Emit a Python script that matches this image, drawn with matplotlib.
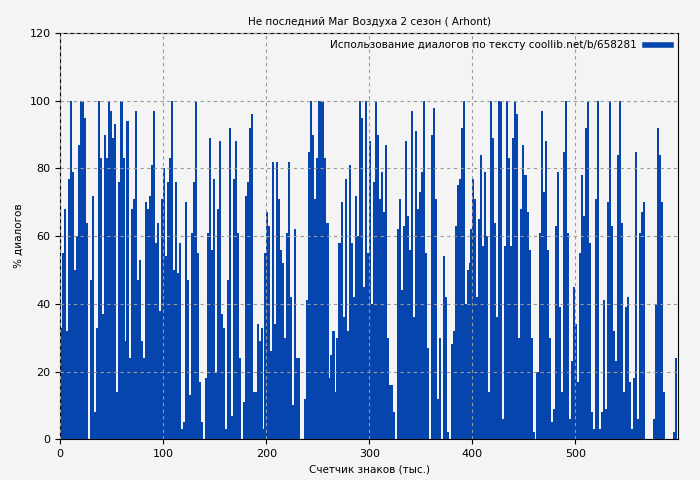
import matplotlib
matplotlib.use("Agg")
import matplotlib.pyplot as plt
import numpy as np
from matplotlib.lines import Line2D

seg1 = [33,55,68,32,77,100,79,50,60,87,100,100,95,64,0,47,72,8,33,100,83,37,90,83,100,97,89,93,14,76,
        100,83,29,94,24,68,71,97,47,53,29,24,70,68,72,81,97,58,64,38,71,80,54,76,83,100,50,76,49,58,
        3,5,70,47,13,61,76,100,55,17,5,0,18,61,89,56,77,20,68,88,37,33,3,47,92,7,77,88,61,24,
        0,11,72,76,92,96,14,14,34,29,33,3,38]
seg2 = [55,67,63,26,82,34,82,71,56,52,30,61,82,42,10,62,24,24,0,0,12,41,85,100,90,71,83,100,100,100,
        83,64,18,25,32,14,30,58,70,36,77,32,81,58,42,72,60,100,95,45,100,55,88,40,76,100,90,71,79,67,
        87,30,16,16,8,0,62,71,44,63,88,66,56,97,36,91,68,73,79,100,55,27,0,90,98,71,12,30,0,54,
        42,2,0,28,32,63,75,77,92,100,40,50,52]
seg3 = [62,77,71,42,65,84,57,79,60,14,100,89,64,36,100,100,6,57,100,83,57,89,100,96,30,68,87,78,67,56,
        30,2,0,20,61,97,73,88,56,30,5,9,63,79,39,14,85,100,61,6,23,45,34,17,55,78,66,92,100,58,
        8,3,71,100,3,8,41,9,70,100,63,32,23,84,100,64,14,39,42,17,3,18,85,6,61,67,70,0,0,0,
        0,6,40,92,84,70,14,0,0,0,0,2,24]

fig = plt.figure(figsize=(7, 4.8), dpi=100, facecolor="#f4f4f4")
ax = fig.add_axes([0.086, 0.085, 0.883, 0.846])
ax.set_facecolor("#f4f4f4")
color = "#0645ad"
for start, seg in ((0, seg1), (198, seg2), (398, seg3)):
    x = start + np.arange(len(seg)) * 1.95
    ax.bar(x, seg, width=2.0, color=color, align="edge", linewidth=0)
ax.set_xlim(0, 600)
ax.set_ylim(0, 120)
ax.set_xticks([0, 100, 200, 300, 400, 500])
ax.set_yticks(range(0, 121, 20))
ax.grid(True, color="#999999", linestyle=(0, (3, 3)), linewidth=0.8)
ax.set_axisbelow(False)
ax.tick_params(labelsize=8)
ax.set_xlabel("Счетчик знаков (тыс.)", fontsize=7.5)
ax.set_ylabel("% диалогов", fontsize=7.5)
ax.set_title("Не последний Маг Воздуха 2 сезон ( Arhont)", fontsize=7.5)
ax.legend([Line2D([0], [0], color=color, lw=4)],
          ["Использование диалогов по тексту coollib.net/b/658281"],
          loc="upper right", fontsize=7.5, frameon=False, handlelength=2.5,
          markerfirst=False, borderaxespad=0.3)
fig.savefig("out.png", dpi=100, facecolor=fig.get_facecolor())
